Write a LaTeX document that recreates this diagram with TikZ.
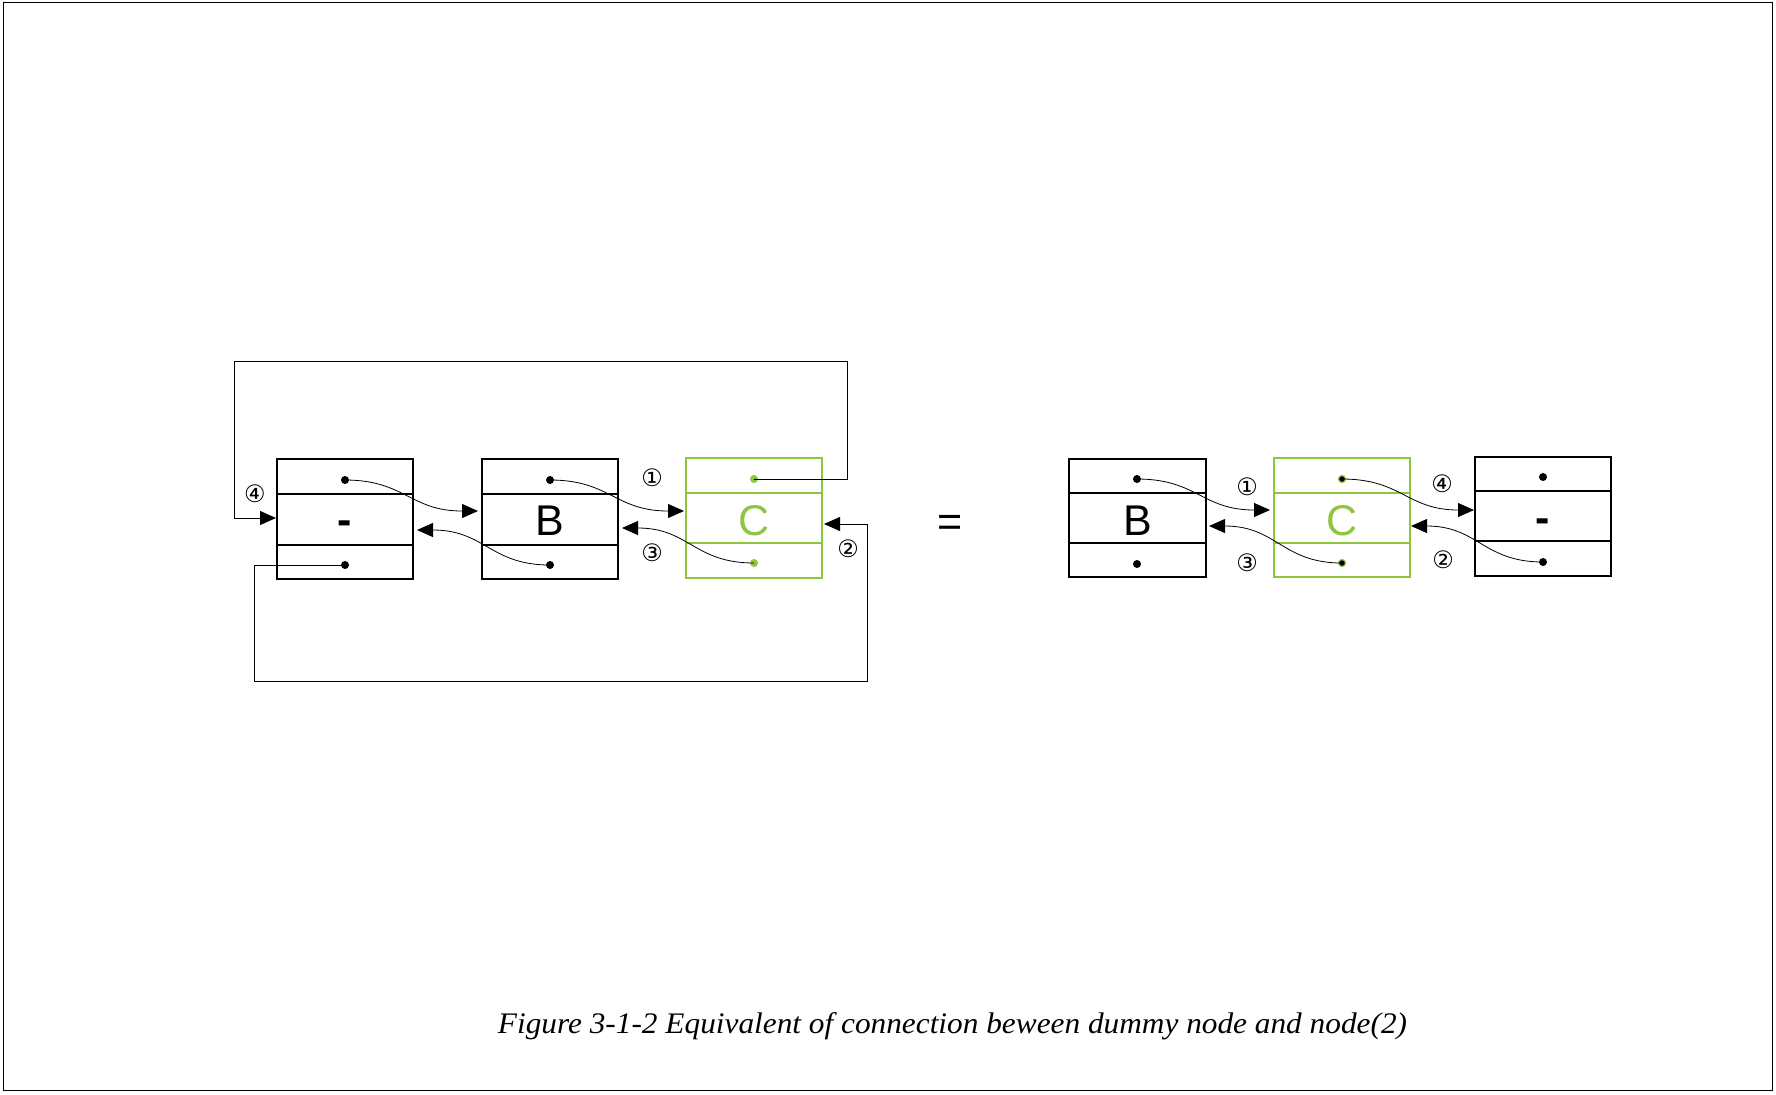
\documentclass[tikz,border=0pt]{standalone}
\usepackage{fontspec}
\usepackage{graphicx}
\setmainfont{Liberation Serif}
\newfontfamily\sansf{Liberation Sans}
\newfontfamily\circf{DejaVu Sans}
\usetikzlibrary{arrows.meta}
\definecolor{lgreen}{RGB}{141,198,63}
\tikzset{
  boxline/.style={line width=0.75pt},
  link/.style={line width=0.4pt,-{Triangle[length=8pt,width=7pt]}},
  looparrow/.style={line width=0.5pt,-{Triangle[length=8pt,width=7pt]}},
  bigtxt/.style={font=\sansf\fontsize{21.5pt}{24pt}\selectfont, inner sep=0pt},
  numlbl/.style={font=\circf\fontsize{12pt}{13pt}\selectfont, inner sep=0pt},
}
\begin{document}
\begin{tikzpicture}[x=0.5pt,y=-0.5pt]
\useasboundingbox (0,0) rectangle (1776,1094);
% outer frame
\draw[line width=0.85pt] (3.5,2.5) rectangle (1772.5,1090.5);

% ===== left diagram =====
% dummy box
\draw[boxline] (277,459) rectangle (413,579);
\draw[boxline] (277,494) -- (413,494) (277,545) -- (413,545);
\node[bigtxt, font=\sansf\bfseries\fontsize{21.5pt}{24pt}\selectfont, anchor=base] (Dm) at (345,534.5) {-};
% B box
\draw[boxline] (482,459) rectangle (618,579);
\draw[boxline] (482,494) -- (618,494) (482,545) -- (618,545);
\node[bigtxt] (Bm) at (550,520.5) {B};
% C box
\draw[boxline, lgreen] (686,458) rectangle (822,578);
\draw[boxline, lgreen] (686,493) -- (822,493) (686,543) -- (822,543);
\node[bigtxt, text=lgreen] (Cm) at (754,520.5) {C};

% dots
\coordinate (Dt) at (345,480); \coordinate (Db) at (345,565);
\coordinate (Bt) at (550,480); \coordinate (Bb) at (550,565);
\coordinate (Ct) at (754,479); \coordinate (Cb) at (754,563);
\fill (Dt) circle (4); \fill (Db) circle (4);
\fill (Bt) circle (4); \fill (Bb) circle (4);
\fill[lgreen] (Ct) circle (4); \fill[lgreen] (Cb) circle (4);

% arrow tips
\coordinate (BinL) at (478,511); \coordinate (DinR) at (417,530);
\coordinate (CinL) at (684,511); \coordinate (BinR) at (622,528);
\coordinate (DinL) at (276,518); \coordinate (CinR) at (824,524);

\draw[link] (Dt) .. controls (405,480) and (410,511) .. (BinL);
\draw[link] (Bb) .. controls (490,565) and (485,530) .. (DinR);
\draw[link] (Bt) .. controls (610,480) and (615,511) .. (CinL);
\draw[link] (Cb) .. controls (694,563) and (689,528) .. (BinR);

% loops
\coordinate (TR) at (847,361); \coordinate (TL) at (234,361);
\draw[looparrow] (Ct) -- (847,479) -- (TR) -- (TL) -- (234,518) -- (DinL);
\coordinate (BL) at (254,681); \coordinate (BR) at (867,681);
\draw[looparrow] (Db) -- (254,565) -- (BL) -- (BR) -- (867,524) -- (CinR);

% labels
\node[numlbl] (l4) at (255,494) {④};
\node[numlbl] (l1) at (652,478) {①};
\node[numlbl] (l3) at (652,553) {③};
\node[numlbl] (l2) at (848,549) {②};

% equals
\node[bigtxt, anchor=base] (eq) at (950,536) {=};

% ===== right diagram =====
\draw[boxline] (1069,459) rectangle (1206,577);
\draw[boxline] (1069,493) -- (1206,493) (1069,543) -- (1206,543);
\node[bigtxt] (B2m) at (1137.5,520.3) {B};
\draw[boxline, lgreen] (1274,458) rectangle (1410,577);
\draw[boxline, lgreen] (1274,493) -- (1410,493) (1274,543) -- (1410,543);
\node[bigtxt, text=lgreen] (C2m) at (1342,520.3) {C};
\draw[boxline] (1475,457) rectangle (1611,576);
\draw[boxline] (1475,491) -- (1611,491) (1475,541) -- (1611,541);
\node[bigtxt, font=\sansf\bfseries\fontsize{21.5pt}{24pt}\selectfont, anchor=base] (D2m) at (1543,532.3) {-};

\coordinate (B2t) at (1137,479); \coordinate (B2b) at (1137,564);
\coordinate (C2t) at (1342,479); \coordinate (C2b) at (1342,563);
\coordinate (D2t) at (1543,477); \coordinate (D2b) at (1543,562);
\fill (B2t) circle (4); \fill (B2b) circle (4);
\filldraw[fill=black, draw=lgreen, line width=0.6pt] (C2t) circle (3.5);
\filldraw[fill=black, draw=lgreen, line width=0.6pt] (C2b) circle (3.5);
\fill (D2t) circle (4); \fill (D2b) circle (4);

\coordinate (C2inL) at (1270,510); \coordinate (B2inR) at (1209,526);
\coordinate (D2inL) at (1474,510); \coordinate (C2inR) at (1411,526);

\draw[link] (B2t) .. controls (1197,479) and (1202,510) .. (C2inL);
\draw[link] (C2b) .. controls (1282,563) and (1277,526) .. (B2inR);
\draw[link] (C2t) .. controls (1402,479) and (1407,510) .. (D2inL);
\draw[link] (D2b) .. controls (1483,562) and (1478,526) .. (C2inR);

\node[numlbl] (r1) at (1247,487) {①};
\node[numlbl] (r3) at (1247,563) {③};
\node[numlbl] (r4) at (1442,484) {④};
\node[numlbl] (r2) at (1443,560) {②};

% caption
\node[anchor=base, inner sep=0pt, font=\itshape\fontsize{13.6pt}{16pt}\selectfont] (cap) at (952.5,1033)
  {\resizebox{454.5pt}{10.5pt}{Figure 3-1-2 Equivalent of connection beween dummy node and node(2)}};
\end{tikzpicture}
\end{document}
